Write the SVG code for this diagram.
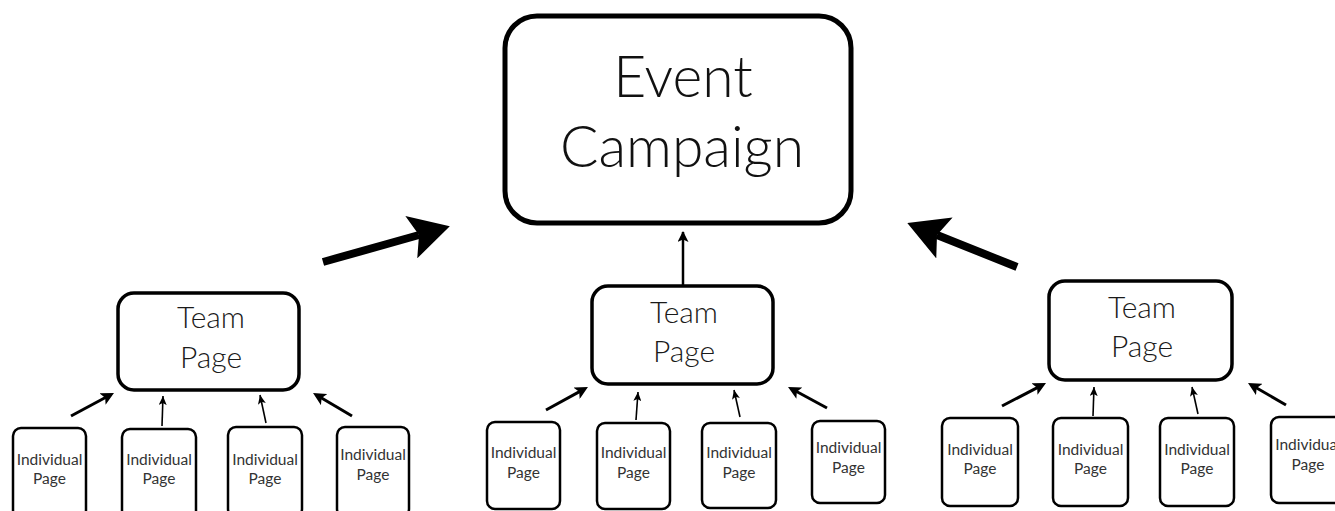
<svg xmlns="http://www.w3.org/2000/svg" width="1335" height="511" viewBox="0 0 1335 511">
<style>
text{font-family:Lato,"Liberation Sans",Arial,sans-serif;font-weight:300;fill:#111;text-anchor:middle}
.ev{font-size:57px}
.tm{font-size:30px;fill:#1a1a1a}
.ind{font-size:15.5px;fill:#333;font-weight:400}
.box{fill:#fff;stroke:#000}
.bev{stroke-width:5}
.bteam{stroke-width:3.5}
.bind{stroke-width:2.5}
.c{stroke:#000;fill:none}
.big{stroke-width:8}
.thick{stroke-width:3}
.thin{stroke-width:1.6}
.mid{stroke-width:2.5}
</style>
<defs>
<marker id="hBig" markerUnits="userSpaceOnUse" viewBox="0 0 40 44" refX="8" refY="22" markerWidth="40" markerHeight="44" orient="auto"><path d="M0,0 L40,22 L0,44 L8,22 Z" fill="#000"/></marker>
<marker id="hThick" markerUnits="userSpaceOnUse" viewBox="0 0 13 13" refX="7" refY="6.5" markerWidth="13" markerHeight="13" orient="auto"><path d="M0,0 L13,6.5 L0,13 L3,6.5 Z" fill="#000"/></marker>
<marker id="hThin" markerUnits="userSpaceOnUse" viewBox="0 0 9 8" refX="9" refY="4" markerWidth="9" markerHeight="8" orient="auto"><path d="M0,0 L9,4 L0,8 L2,4 Z" fill="#000"/></marker>
<marker id="hMid" markerUnits="userSpaceOnUse" viewBox="0 0 11 11" refX="10" refY="5.5" markerWidth="11" markerHeight="11" orient="auto"><path d="M0,0 L11,5.5 L0,11 L2.5,5.5 Z" fill="#000"/></marker>
</defs>

<g id="connectors">
<line class="c big" x1="323" y1="262" x2="419" y2="235" marker-end="url(#hBig)"/>
<line class="c big" x1="1017" y1="267" x2="937" y2="235" marker-end="url(#hBig)"/>
<line class="c mid" x1="683" y1="285" x2="683" y2="232" marker-end="url(#hMid)"/>
<line class="c thick" x1="71" y1="416" x2="108.7" y2="395.8" marker-end="url(#hThick)"/>
<line class="c thin" x1="162" y1="426" x2="163" y2="396" marker-end="url(#hThin)"/>
<line class="c thin" x1="266" y1="423" x2="260" y2="395" marker-end="url(#hThin)"/>
<line class="c thick" x1="352" y1="416" x2="318.2" y2="396" marker-end="url(#hThick)"/>
<line class="c thick" x1="546" y1="410" x2="582.7" y2="389.9" marker-end="url(#hThick)"/>
<line class="c thin" x1="636" y1="420" x2="638" y2="392" marker-end="url(#hThin)"/>
<line class="c thin" x1="740" y1="417" x2="734" y2="390" marker-end="url(#hThin)"/>
<line class="c thick" x1="827" y1="408" x2="793.3" y2="389.8" marker-end="url(#hThick)"/>
<line class="c thick" x1="1002" y1="406" x2="1040.7" y2="385.8" marker-end="url(#hThick)"/>
<line class="c thin" x1="1093" y1="416" x2="1094" y2="387" marker-end="url(#hThin)"/>
<line class="c thin" x1="1198" y1="414" x2="1192" y2="387" marker-end="url(#hThin)"/>
<line class="c thick" x1="1286" y1="405" x2="1253.2" y2="386" marker-end="url(#hThick)"/>
</g>

<g id="event">
<rect class="box bev" x="505" y="16" width="346" height="207" rx="32"/>
<text class="ev" x="683" y="97">Event</text>
<text class="ev" x="682" y="167">Campaign</text>
</g>

<g id="team-left">
<rect class="box bteam" x="118" y="293" width="181" height="97" rx="16"/>
<text class="tm" x="211" y="328">Team</text>
<text class="tm" x="211" y="368">Page</text>
</g>
<g id="team-mid">
<rect class="box bteam" x="592" y="286" width="181" height="98" rx="16"/>
<text class="tm" x="684" y="323">Team</text>
<text class="tm" x="684" y="362">Page</text>
</g>
<g id="team-right">
<rect class="box bteam" x="1049" y="281" width="183" height="99" rx="16"/>
<text class="tm" x="1142" y="318">Team</text>
<text class="tm" x="1142" y="357">Page</text>
</g>

<g id="ind-l1"><rect class="box bind" x="13" y="428" width="73" height="90" rx="8"/><text class="ind" x="49.5" y="465">Individual</text><text class="ind" x="49.5" y="484">Page</text></g>
<g id="ind-l2"><rect class="box bind" x="122" y="429" width="74" height="90" rx="8"/><text class="ind" x="159" y="465">Individual</text><text class="ind" x="159" y="484">Page</text></g>
<g id="ind-l3"><rect class="box bind" x="228" y="427" width="74" height="90" rx="8"/><text class="ind" x="265" y="465">Individual</text><text class="ind" x="265" y="484">Page</text></g>
<g id="ind-l4"><rect class="box bind" x="337" y="427" width="72" height="90" rx="8"/><text class="ind" x="373" y="460">Individual</text><text class="ind" x="373" y="480">Page</text></g>

<g id="ind-m1"><rect class="box bind" x="487" y="422" width="73" height="87" rx="8"/><text class="ind" x="523.5" y="458">Individual</text><text class="ind" x="523.5" y="478">Page</text></g>
<g id="ind-m2"><rect class="box bind" x="597" y="423" width="73" height="86" rx="8"/><text class="ind" x="633.5" y="458">Individual</text><text class="ind" x="633.5" y="478">Page</text></g>
<g id="ind-m3"><rect class="box bind" x="702" y="423" width="74" height="85" rx="8"/><text class="ind" x="739" y="458">Individual</text><text class="ind" x="739" y="478">Page</text></g>
<g id="ind-m4"><rect class="box bind" x="812" y="421" width="73" height="82" rx="8"/><text class="ind" x="848.5" y="453">Individual</text><text class="ind" x="848.5" y="473">Page</text></g>

<g id="ind-r1"><rect class="box bind" x="942" y="418" width="76" height="88" rx="8"/><text class="ind" x="980" y="455">Individual</text><text class="ind" x="980" y="474">Page</text></g>
<g id="ind-r2"><rect class="box bind" x="1053" y="418" width="75" height="88" rx="8"/><text class="ind" x="1090.5" y="455">Individual</text><text class="ind" x="1090.5" y="474">Page</text></g>
<g id="ind-r3"><rect class="box bind" x="1160" y="418" width="74" height="88" rx="8"/><text class="ind" x="1197" y="455">Individual</text><text class="ind" x="1197" y="474">Page</text></g>
<g id="ind-r4"><rect class="box bind" x="1271" y="417" width="74" height="86" rx="8"/><text class="ind" x="1308" y="450">Individual</text><text class="ind" x="1308" y="470">Page</text></g>
</svg>
